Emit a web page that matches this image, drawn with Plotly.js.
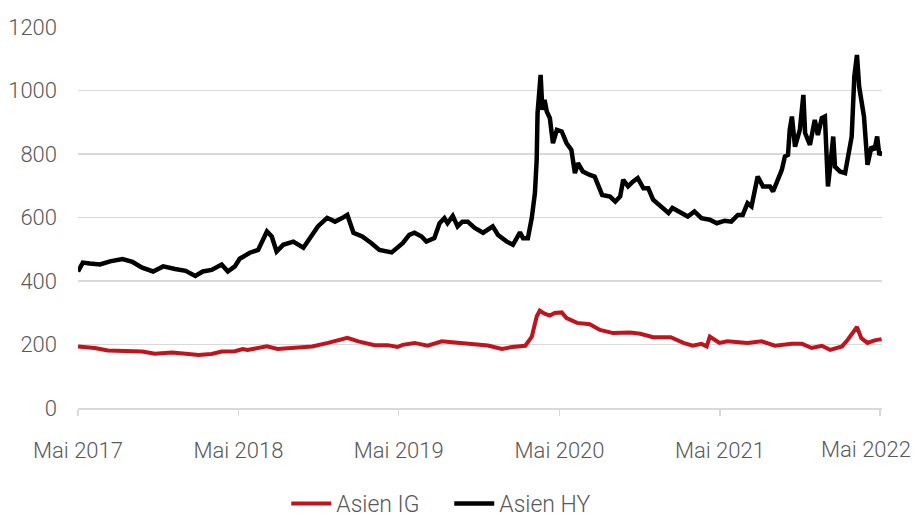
<!DOCTYPE html>
<html>
<head>
<meta charset="utf-8">
<script src="https://cdn.plot.ly/plotly-3.0.1.min.js"></script>
<style>html,body{margin:0;padding:0;background:#fff;}#chart{width:915px;height:518px;}</style>
</head>
<body>
<div id="chart"></div>
<script>
const hyDates = ['2017-05-01','2017-05-12','2017-05-28','2017-06-20','2017-07-13','2017-08-10','2017-09-02','2017-09-24','2017-10-19','2017-11-11','2017-12-08','2018-01-01','2018-01-23','2018-02-09','2018-03-01','2018-03-24','2018-04-07','2018-04-23','2018-05-04','2018-05-27','2018-06-15','2018-07-05','2018-07-16','2018-07-27','2018-08-11','2018-09-03','2018-09-26','2018-10-18','2018-10-29','2018-11-19','2018-12-07','2018-12-23','2019-01-04','2019-01-18','2019-02-07','2019-02-28','2019-03-18','2019-04-15','2019-04-28','2019-05-10','2019-05-25','2019-06-06','2019-06-22','2019-07-03','2019-07-21','2019-08-02','2019-08-13','2019-08-20','2019-09-01','2019-09-12','2019-09-23','2019-10-05','2019-10-21','2019-11-09','2019-12-01','2019-12-13','2020-01-02','2020-01-16','2020-02-01','2020-02-08','2020-02-19','2020-02-28','2020-03-06','2020-03-10','2020-03-12','2020-03-19','2020-03-23','2020-03-28','2020-04-02','2020-04-09','2020-04-16','2020-04-25','2020-05-06','2020-05-17','2020-05-28','2020-06-05','2020-06-12','2020-06-23','2020-07-09','2020-07-20','2020-08-06','2020-08-24','2020-09-05','2020-09-16','2020-09-23','2020-10-04','2020-10-15','2020-10-26','2020-11-08','2020-11-19','2020-11-30','2020-12-23','2021-01-04','2021-01-13','2021-01-31','2021-02-17','2021-03-04','2021-03-20','2021-04-08','2021-04-24','2021-05-12','2021-05-27','2021-06-11','2021-06-22','2021-07-03','2021-07-12','2021-07-26','2021-08-07','2021-08-23','2021-08-30','2021-09-10','2021-09-19','2021-09-26','2021-10-03','2021-10-07','2021-10-12','2021-10-19','2021-10-30','2021-11-07','2021-11-11','2021-11-22','2021-12-03','2021-12-10','2021-12-19','2021-12-26','2022-01-02','2022-01-07','2022-01-14','2022-01-18','2022-01-29','2022-02-10','2022-02-16','2022-02-25','2022-03-03','2022-03-09','2022-03-14','2022-03-25','2022-04-02','2022-04-11','2022-04-18','2022-04-24','2022-04-29','2022-05-05'];
const hyValues = [430,458,455,452,462,469,460,442,430,446,438,432,416,430,435,452,430,446,470,489,498,556,540,493,514,524,505,552,572,599,587,598,608,552,540,519,498,490,505,519,545,552,540,524,535,582,598,582,605,572,587,587,567,552,572,545,524,514,553,535,535,600,677,781,929,1049,939,970,934,913,834,876,871,834,813,740,771,745,734,729,671,666,650,666,719,698,713,724,692,692,656,630,614,630,614,603,619,598,593,582,590,587,608,608,645,635,729,698,698,682,719,750,792,797,876,918,823,876,986,866,829,907,860,913,918,698,760,855,760,745,740,792,855,1044,1112,1012,918,766,823,813,855,797,808];

const igDates = ['2017-05-01','2017-06-08','2017-07-08','2017-08-16','2017-09-24','2017-10-23','2017-12-01','2018-01-01','2018-01-30','2018-03-01','2018-03-24','2018-04-23','2018-05-11','2018-05-22','2018-07-05','2018-07-29','2018-09-07','2018-10-16','2018-11-21','2018-12-23','2019-01-04','2019-01-29','2019-03-07','2019-04-06','2019-04-28','2019-05-10','2019-06-06','2019-07-06','2019-08-07','2019-09-06','2019-10-14','2019-11-20','2019-12-22','2020-01-14','2020-02-13','2020-02-28','2020-03-10','2020-03-17','2020-03-28','2020-04-09','2020-04-20','2020-05-06','2020-05-17','2020-06-10','2020-07-09','2020-08-01','2020-08-31','2020-10-09','2020-11-01','2020-11-30','2021-01-09','2021-02-07','2021-02-28','2021-03-20','2021-04-01','2021-04-08','2021-04-19','2021-04-30','2021-05-18','2021-07-03','2021-08-04','2021-09-03','2021-10-12','2021-11-04','2021-11-26','2021-12-19','2022-01-07','2022-02-03','2022-02-16','2022-02-28','2022-03-09','2022-03-19','2022-04-02','2022-04-18','2022-05-04'];
const igValues = [194,189,181,178,178,171,175,171,167,170,178,179,186,183,194,186,191,194,205,215,221,210,198,198,192,199,205,196,210,206,202,197,186,192,196,225,288,307,297,291,299,301,283,268,264,246,236,238,234,223,223,205,196,202,194,225,215,205,210,205,210,196,202,202,189,196,183,194,215,241,255,220,205,213,217];

const tickDates = ['2017-05-01','2018-05-01','2019-05-01','2020-05-01','2021-05-01','2022-05-01'];
const tickLabels = ['Mai 2017','Mai 2018','Mai 2019','Mai 2020','Mai 2021','Mai 2022'];
const seriesNames = ['Asien IG','Asien HY'];

const grid = '#d9d9d9';
const fontFam = 'Roboto, "Liberation Sans", Arial, sans-serif';
const textColor = '#595959';

const traces = [
  {x: igDates, y: igValues, name: seriesNames[0], type: 'scatter', mode: 'lines',
   line: {color: '#c0141c', width: 4}},
  {x: hyDates, y: hyValues, name: seriesNames[1], type: 'scatter', mode: 'lines',
   line: {color: '#000000', width: 4.5}}
];

// last tick label is shifted left in the original so it fits inside the page
const shownLabels = tickLabels.map((t, i) => i === tickLabels.length - 1 ? '' : t);

const layout = {
  width: 915, height: 518,
  margin: {l: 78, r: 33, t: 27, b: 110},
  paper_bgcolor: '#fff', plot_bgcolor: '#fff',
  font: {family: fontFam, size: 22, color: textColor, weight: 300},
  showlegend: true,
  legend: {orientation: 'h', xref: 'container', yref: 'container', x: 0.491, xanchor: 'center', y: 0.028, yanchor: 'middle',
           font: {family: fontFam, size: 23, color: textColor, weight: 300}, itemwidth: 40,
           entrywidth: 108, entrywidthmode: 'pixels', traceorder: 'normal'},
  xaxis: {type: 'date', range: ['2017-05-01','2022-05-05'], tickmode: 'array', tickvals: tickDates, ticktext: shownLabels,
          ticks: 'outside', ticklen: 6, tickwidth: 1.5, tickcolor: grid, showline: true, linecolor: grid, linewidth: 1.5,
          showgrid: false, zeroline: false, ticklabelstandoff: 16, fixedrange: true},
  yaxis: {range: [0, 1200], dtick: 200, tick0: 0, showgrid: true, gridcolor: grid, gridwidth: 1.5,
          zeroline: false, showline: false, ticks: '', ticklabelstandoff: 20, fixedrange: true},
  annotations: [{text: tickLabels[tickLabels.length - 1], xref: 'paper', yref: 'paper', x: 1, y: 0,
                 xanchor: 'right', yanchor: 'top', xshift: 31, yshift: -27, showarrow: false,
                 font: {family: fontFam, size: 22, color: textColor, weight: 300}}]
};

Plotly.newPlot('chart', traces, layout, {displayModeBar: false, staticPlot: true});
</script>
</body>
</html>
